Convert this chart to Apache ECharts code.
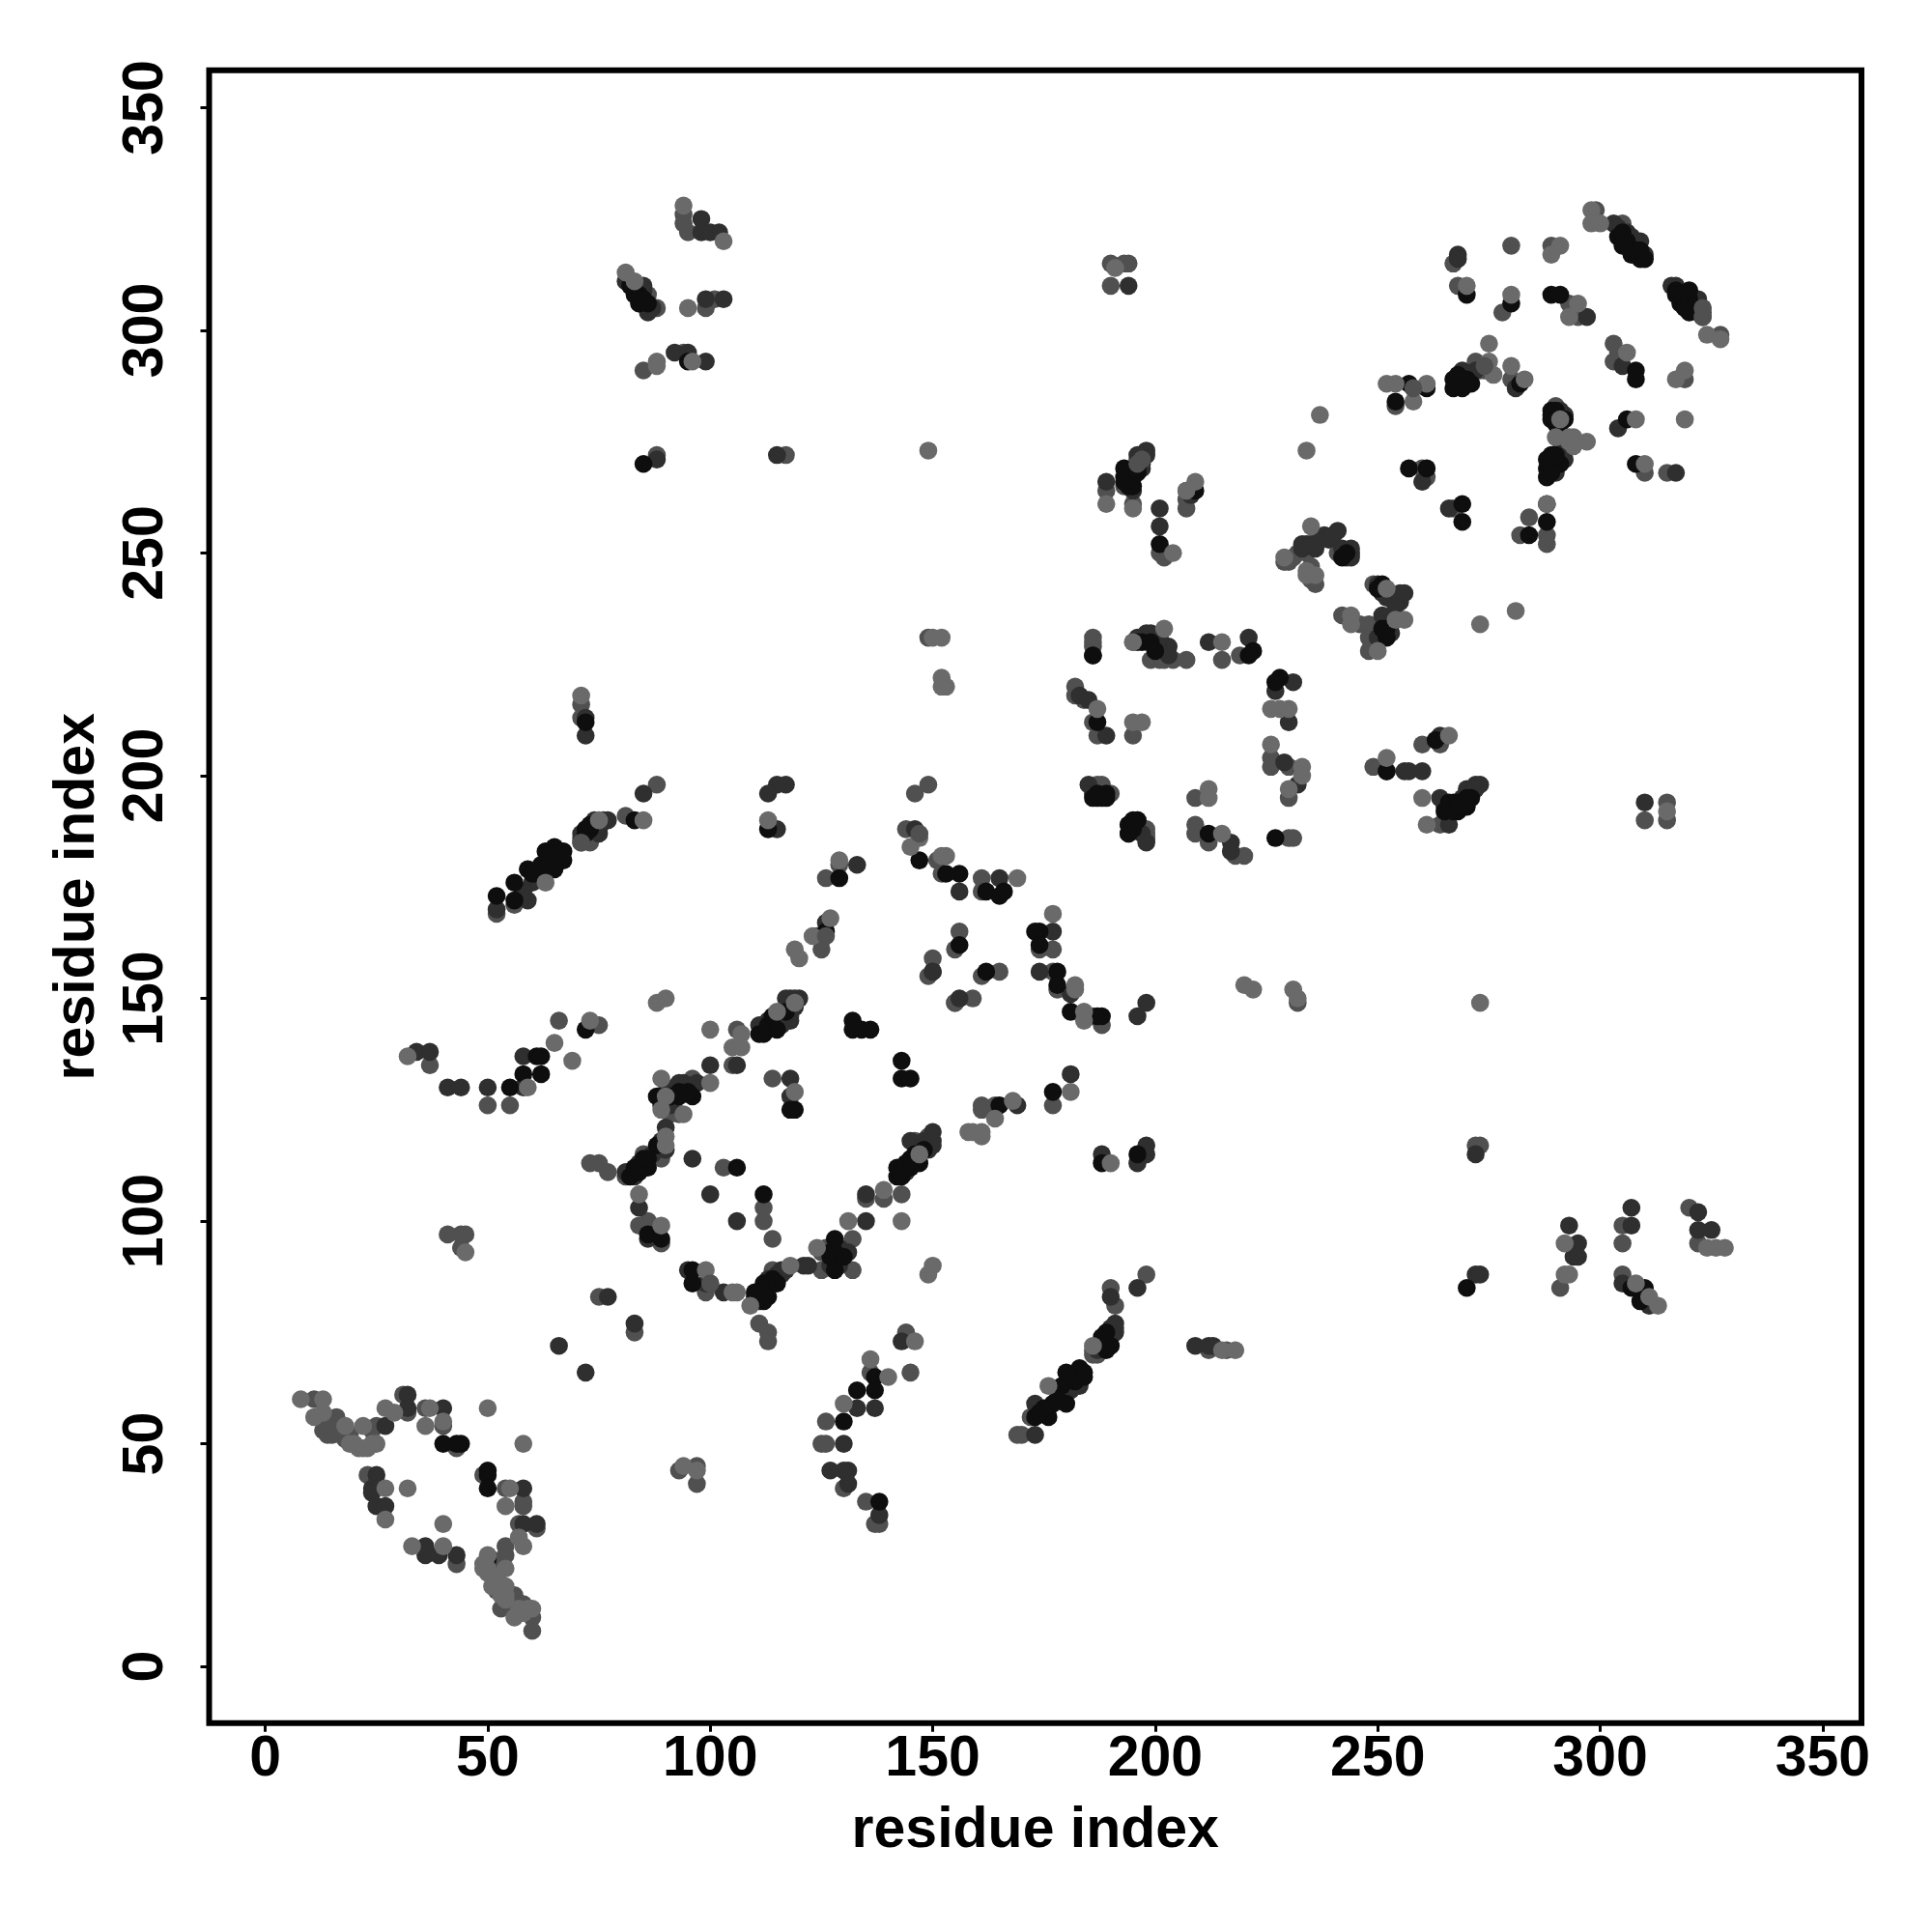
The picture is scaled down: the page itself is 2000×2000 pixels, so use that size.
<!DOCTYPE html>
<html>
<head>
<meta charset="utf-8">
<style>html,body{margin:0;padding:0;background:#fff}#c{width:2000px;height:2000px}</style>
<script src="https://cdn.jsdelivr.net/npm/echarts@6/dist/echarts.min.js"></script>
</head>
<body>
<div id="c"></div>
<script>
const tickValues = [0, 50, 100, 150, 200, 250, 300, 350];
const axisTitle = 'residue index';
const pointsMid = [
[11,60],[13,53],[16,56],[15,52],[18,51],[25,54],[31,61],[32,57],[36,58],[40,54],[43,49],[23,43],[49,43],[54,40],[58,37],[58,36],[43,23],[57,32],[61,31],[54,27],[54,25],[51,22],[56,16],[53,13],[56,13],[60,11],[60,8],[75,83],[83,75],
[14,54],[14,52],[16,53],[17,52],[19,52],[24,53],[52,19],[52,17],[55,14],[58,14],[51,24],
[50,126],[55,126],[66,145],[75,144],[106,143],[105,135],[96,132],[90,125],[93,124],[89,114],[73,113],[75,113],[77,111],[81,110],[85,115],[84,99],[86,100],[89,95],[99,84],[100,86],[110,82],[114,89],[111,77],[113,75],[113,73],[125,89],[128,90],[132,96],[132,89],[135,105],[139,105],[143,106],[146,118],[149,118],[149,119],[155,149],[118,146],[114,132],[112,103],[112,100],[114,96],[103,112],
[144,75],[145,66],[136,66],[126,55],[126,50],[125,50],[137,32],[138,32],[135,37],[130,40],[169,52],[170,52],[172,56],[186,71],[190,85],[191,81],[198,88],[212,71],[216,71],[186,70],[187,70],[91,124],[92,125],[126,94],[125,93],
[186,231],[186,229],[182,220],[182,218],[184,217],[186,212],[187,209],[195,209],[149,231],[126,177],[129,180],[149,198],[146,196],[144,188],[151,181],[152,178],[161,177],[161,174],[156,165],[155,161],[150,159],[149,155],[174,161],[177,161],[177,156],[178,152],[186,146],[188,144],[161,155],[165,156],[155,149],[159,150],[125,161],[124,164],[177,126],[161,126],[164,126],[161,125],[125,164],[125,163],
[194,187],[198,187],[198,186],[187,198],[188,198],[190,196],
[197,272],[196,271],[195,268],[193,265],[197,271],[189,264],[195,261],[201,250],[202,250],[202,249],[207,264],[207,260],[207,262],
[186,230],[195,230],[198,230],[200,230],[202,226],[204,226],[207,226],[215,226],[219,227],[226,204],[226,202],[230,202],[230,195],[230,186],[231,186],[199,226],[201,226],
[209,195],[209,189],[209,187],[212,185],[218,182],[220,182],[198,188],[198,186],
[249,202],[252,201],[260,207],[264,207],[265,193],[264,189],
[242,236],[246,234],[250,233],[248,234],[248,228],[248,231],[249,243],[229,248],[230,248],[232,250],[236,252],[234,250],[236,243],[241,250],[231,249],[235,247],[235,244],
[260,269],[261,267],[267,260],
[299,327],[305,324],[280,319],[289,319],[267,315],[268,310],[278,304],[293,306],[295,303],[323,305],[327,299],
[303,297],[304,295],[303,293],[319,289],[310,268],[315,268],[254,283],[272,293],[273,291],[280,289],[290,283],[292,276],[284,258],[282,254],[288,254],[288,252],[274,291],[273,292],
[291,85],[294,94],[305,95],[305,99],[305,88],[320,103],[322,95],
[94,326],[94,324],[95,322],[86,308],[88,305],[99,305],[101,307],[94,295],[85,291],[88,272],[117,272],
[190,315],[193,315],[194,315],[190,310],[232,149],[272,117],[273,117],
[81,191],[71,216],[71,213],[88,198],[73,185],[71,185],[56,171],[52,169],
[44,97],[45,97],[44,94],[93,44],[97,45],[97,41],[310,190],[315,194],[315,190],[41,97],[37,135]
];
const pointsDark = [
[27,54],[32,61],[32,58],[40,58],[25,43],[24,40],[24,39],[25,36],[27,36],[58,40],[36,27],[36,25],[39,25],[43,25],[58,32],[61,32],[66,72],[72,66],[77,83],[83,77],
[50,130],[58,130],[58,137],[106,135],[100,135],[93,131],[90,121],[83,110],[81,111],[85,113],[84,103],[86,96],[95,89],[99,86],[103,84],[111,82],[111,83],[110,83],[114,86],[115,88],[117,89],[121,90],[122,90],[131,93],[135,100],[135,106],[143,112],[144,111],[145,118],[149,116],[150,120],[150,156],[156,150],[111,144],[113,145],[115,145],[117,150],[118,145],[120,150],[96,114],[100,106],[106,100],[118,132],[118,128],
[116,144],[116,146],[118,147],[119,148],[118,150],[119,150],[112,143],[147,117],[148,118],[148,117],[149,117],[150,118],[150,117],[84,113],[87,115],[88,116],[89,118],[90,116],[116,88],[116,89],[113,87],[127,90],[129,90],[129,94],[90,129],[90,127],[92,130],[94,130],[94,131],[97,131],[89,126],[91,126],
[143,73],[133,58],[137,58],[130,50],[127,44],[131,44],[130,44],[131,41],[138,34],[173,52],[173,59],[183,63],[187,71],[191,75],[191,76],[190,83],[196,85],[209,72],[212,72],[213,72],[188,72],[189,73],[190,76],[191,77],[190,74],[181,62],
[115,198],[117,198],[113,196],[115,188],[133,180],[146,188],[156,174],[165,177],[150,156],[177,165],[181,151],[174,156],[198,149],[196,146],[181,133],[169,126],[186,227],[183,218],[185,217],[189,209],[194,189],[197,187],[198,185],[185,198],[198,231],[186,196],[126,167],
[198,273],[197,269],[189,266],[195,264],[201,260],[201,256],[208,263],[198,272],[197,270],[196,272],
[198,232],[203,229],[212,230],[221,231],[231,221],[227,219],[230,212],[229,203],[232,198],[217,185],[217,183],[196,190],[270,197],[272,198],[273,198],[256,201],[257,201],[260,201],[264,209],[264,195],[269,195],[266,189],[271,196],[272,197],[199,232],[201,231],[203,227],[196,231],[197,231],
[252,234],[251,236],[250,231],[250,243],[251,242],[256,241],[255,239],[233,251],[236,251],[238,254],[241,255],[244,250],[243,249],[260,266],[266,260],[251,241],[252,240],[254,240],[255,241],[254,238],[253,234],[252,235],[251,232],[253,232],[233,252],[234,252],[235,252],[237,253],[239,253],[240,254],[242,251],[244,251],[244,249],
[303,324],[306,322],[309,320],[310,317],[268,317],[268,316],[317,310],[316,310],[322,307],[323,303],[297,303],[305,292],[304,278],[317,268],[269,291],[281,287],[292,274],[290,270],[290,268],[304,323],[307,321],[308,320],[319,307],[321,307],[322,305],[322,304],[323,304],[270,290],[271,290],[272,291],[291,272],[292,271],[291,273],[293,274],[292,273],[291,282],[292,281],
[272,88],[273,88],[293,99],[295,95],[294,92],[295,92],[307,99],[307,103],[305,86],[311,81],[322,102],[322,98],[325,98],
[98,325],[98,322],[100,322],[102,322],[81,311],[85,310],[86,304],[83,309],[99,307],[103,307],[92,295],[95,295],[99,293],[88,271],[115,272],[194,310],[272,115],[198,117],[198,115],[196,113],[188,115],[85,309],[87,305],
[72,213],[72,209],[85,196],[77,190],[76,190],[74,190],[71,186],[75,188],[60,176],[59,172],[52,170],[34,138],[37,138],[41,130],[44,130],[310,194],[74,189],[75,187],[71,187],[58,174]
];
const pointsBlack = [
[40,50],[43,50],[44,50],[50,44],[50,43],[50,40],
[55,130],[58,133],[62,133],[61,137],[62,137],[72,143],[111,142],[112,142],[113,143],[114,144],[88,128],[93,128],[96,128],[88,117],[83,112],[86,112],[86,97],[89,96],[96,89],[96,86],[111,83],[113,83],[112,86],[128,89],[128,96],[127,93],[128,93],[142,110],[142,112],[145,114],[146,113],[106,112],[112,106],[119,125],[118,125],[132,145],[132,143],[134,143],[136,143],[143,136],[143,132],[145,132],
[113,144],[114,146],[115,143],[117,147],[143,110],[144,113],[145,112],[146,115],[147,113],[148,116],[82,110],[83,111],[84,111],[85,114],[86,114],[111,84],[112,84],[113,85],[114,87],[115,86],[112,82],[110,84],[91,128],[93,129],[95,129],[127,92],[130,92],
[137,65],[137,62],[133,62],[130,55],[138,37],[173,56],[176,56],[177,59],[180,59],[179,63],[180,66],[183,67],[184,66],[189,75],[190,72],[174,57],[175,58],[178,60],[182,64],[184,65],[189,71],[188,74],
[187,212],[113,188],[129,177],[147,181],[153,178],[156,178],[162,174],[165,173],[166,174],[156,162],[174,165],[173,165],[174,162],[178,156],[178,153],[181,147],[187,146],[188,146],[162,156],[177,129],[165,126],[194,189],[196,190],[194,187],[187,195],[186,195],[188,195],[187,196],[189,196],[189,195],[126,165],
[193,269],[193,267],[195,265],[195,267],[201,252],[209,264],[186,227],[196,230],[221,227],[222,228],[228,222],[227,221],[227,186],[212,187],[195,190],[195,188],[252,201],[263,208],[266,193],[268,192],[265,192],[271,195],[194,266],[194,268],[196,268],[196,269],[195,269],[194,265],[193,266],[197,230],[199,230],[200,228],[267,194],[266,194],[268,194],[269,193],[269,194],[270,195],[267,192],[268,193],[270,193],
[252,233],[242,249],[257,269],[261,269],[269,261],[269,257],[251,243],[250,242],[252,231],[251,233],[243,250],
[304,321],[305,319],[307,317],[309,316],[270,308],[280,306],[289,308],[291,308],[317,309],[320,309],[320,304],[318,306],[308,291],[308,289],[306,280],[308,270],[257,288],[261,287],[254,284],[267,287],[269,287],[267,289],[271,288],[282,288],[289,282],[289,280],[290,279],[288,271],[288,269],[288,267],[291,270],[288,261],[288,257],[284,254],[305,322],[306,320],[306,319],[308,318],[309,318],[310,316],[317,308],[318,308],[319,305],[320,307],[321,305],[268,288],[270,288],[270,289],[268,290],[269,289],[289,270],[290,272],[289,268],[289,272],[290,281],[290,282],[291,279],[292,280],[289,281],
[270,85],[307,85],[310,85],[309,82],[82,310],[84,306],[95,293],[85,270],[196,115],[188,113],[72,212],[83,190],[72,188],[73,188],[66,183],[65,184],[63,183],[65,179],[63,179],[59,179],[56,176],[56,172],[52,173],[84,308],[85,307],[83,308],[86,306],[60,178],[61,178],[62,180],[64,181],[64,182],[67,183],[67,181],[72,187],[73,189],[50,24]
];
const pointsLight = [
[8,60],[13,60],[11,56],[13,57],[18,54],[22,54],[21,49],[23,49],[25,50],[27,58],[29,57],[37,58],[36,54],[40,55],[50,58],[58,50],[27,40],[32,40],[27,33],[55,40],[54,36],[40,32],[33,27],[40,27],[57,29],[58,27],[50,25],[49,23],[49,22],[54,22],[51,18],[54,18],[53,16],[57,13],[60,13],[56,11],[19,50],[20,50],[22,49],[24,50],[50,21],[52,20],[53,18],[54,16],[54,15],[58,12],[59,13],[50,22],
[59,130],[65,140],[69,136],[73,145],[88,149],[90,150],[100,143],[107,142],[105,139],[107,139],[100,131],[115,147],[119,149],[89,132],[90,128],[89,125],[94,124],[90,119],[90,117],[84,106],[89,99],[99,89],[105,84],[106,84],[109,81],[118,90],[124,94],[131,100],[139,107],[143,100],[147,115],[158,120],[119,129],[150,90],[149,88],
[146,73],[136,69],[140,65],[130,59],[176,63],[186,72],[215,71],[218,71],
[150,231],[152,231],[152,222],[153,220],[152,220],[187,215],[195,212],[197,212],[195,230],[113,190],[129,181],[147,186],[145,184],[153,182],[152,182],[169,177],[127,168],[123,164],[119,161],[120,159],[177,169],[182,153],[182,152],[184,147],[184,145],[181,129],[168,127],[164,123],[159,120],[161,119],[161,120],
[234,273],[189,261],[195,260],[204,250],[209,266],[207,264],[202,233],[215,230],[226,207],[228,215],[230,215],[226,215],[233,202],[233,200],[230,197],[212,197],[212,195],[215,187],[252,204],[266,209],[260,195],[261,189],[244,236],[244,234],[256,235],[254,235],[250,228],[229,249],[252,242],[235,256],[234,246],[234,245],[236,245],[273,234],[281,237],
[298,327],[298,324],[300,324],[291,319],[289,317],[270,310],[280,308],[295,306],[293,303],[324,299],[327,298],
[306,295],[319,291],[317,289],[319,280],[308,280],[310,270],[252,288],[254,288],[261,288],[258,284],[275,297],[275,293],[276,290],[280,292],[283,289],[291,280],[290,276],[294,276],[297,275],[294,274],[288,261],[293,276],[293,275],
[292,88],[293,88],[292,95],[308,86],[311,83],[313,81],[324,94],[326,94],[328,94],
[94,328],[103,320],[81,313],[83,311],[95,305],[96,293],[88,293],[88,292],[191,314],[237,281],[149,273],
[220,153],[222,152],[231,152],[232,150],[273,149],[190,113],
[71,218],[85,190],[75,190],[63,176],[32,137],[45,93],[94,45],[97,44],[315,192]
];
const pointsMidTop = [[258,287],[323,305],[197,271],[196,270],[126,164],[100,86],[147,187],[71,185],[274,292],[323,303]];
const SHADE_MID = '#505050', SHADE_DARK = '#2f2f2f', SHADE_BLACK = '#0e0e0e', SHADE_LIGHT = '#6a6a6a';
function layer(data, color) {
  return { type: 'scatter', data: data, symbol: 'circle', symbolSize: 18.6, itemStyle: { color: color, opacity: 1 }, silent: true, animation: false };
}
const labelStyle = { fontFamily: 'Liberation Sans', fontWeight: 'bold', fontSize: 59, color: '#000' };
const chart = echarts.init(document.getElementById('c'), null, { renderer: 'canvas', width: 2000, height: 2000 });
chart.setOption({
  animation: false,
  backgroundColor: '#fff',
  grid: { left: 216.5, top: 72.7, width: 1710.5, height: 1711, show: true, borderColor: '#000', borderWidth: 6, backgroundColor: 'transparent', z: 5 },
  xAxis: {
    type: 'value', min: -12.6, max: 358.7, splitLine: { show: false },
    axisLine: { show: false, onZero: false },
    axisTick: { show: true, length: 9, lineStyle: { color: '#000', width: 3 }, customValues: tickValues },
    axisLabel: Object.assign({ show: true, margin: 9, customValues: tickValues, hideOverlap: false, showMinLabel: true, showMaxLabel: true }, labelStyle),
    name: axisTitle, nameLocation: 'center', nameGap: 83, nameMoveOverlap: false, nameTextStyle: labelStyle
  },
  yAxis: {
    type: 'value', min: -12.7, max: 358.4, splitLine: { show: false },
    axisLine: { show: false, onZero: false },
    axisTick: { show: true, length: 9, lineStyle: { color: '#000', width: 3 }, customValues: tickValues },
    axisLabel: Object.assign({ show: true, margin: 35, rotate: 90, customValues: tickValues, hideOverlap: false, showMinLabel: true, showMaxLabel: true }, labelStyle),
    name: axisTitle, nameLocation: 'center', nameGap: 106, nameRotate: 90, nameMoveOverlap: false, nameTextStyle: labelStyle
  },
  series: [
    layer(pointsMid, SHADE_MID),
    layer(pointsDark, SHADE_DARK),
    layer(pointsBlack, SHADE_BLACK),
    layer(pointsLight, SHADE_LIGHT),
    layer(pointsMidTop, SHADE_MID)
  ]
});
</script>
</body>
</html>
